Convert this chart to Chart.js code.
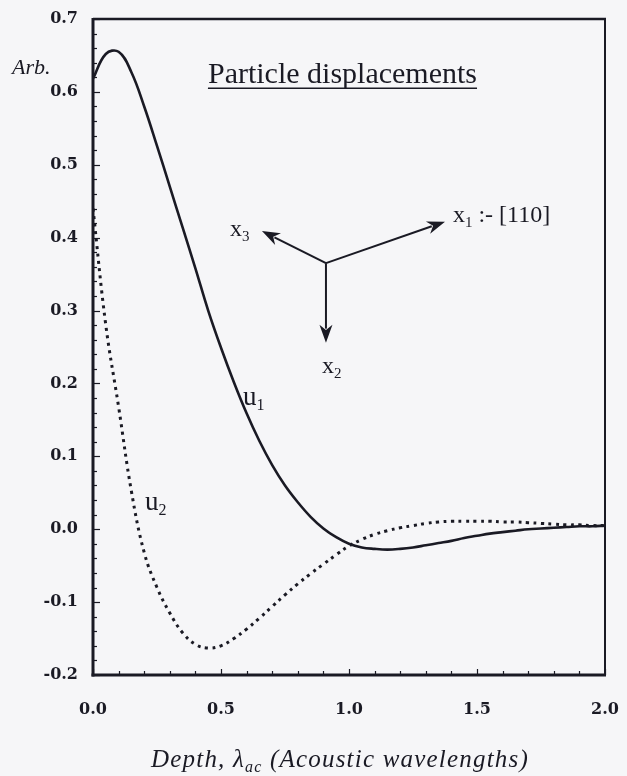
<!DOCTYPE html>
<html>
<head>
<meta charset="utf-8">
<title>Particle displacements</title>
<script src="https://cdn.jsdelivr.net/npm/chart.js@4.4.1/dist/chart.umd.min.js"></script>
<style>
  html, body { margin: 0; padding: 0; background: #f6f6f8; }
  #wrap { width: 627px; height: 776px; }
</style>
</head>
<body>
<div id="wrap"><canvas id="c" width="627" height="776"></canvas></div>
<script>
// Depth in acoustic wavelengths
const depth = [
  0.00, 0.05, 0.10, 0.15, 0.20, 0.25, 0.30, 0.35, 0.40, 0.45,
  0.50, 0.55, 0.60, 0.65, 0.70, 0.75, 0.80, 0.85, 0.90, 0.95,
  1.00, 1.05, 1.10, 1.15, 1.20, 1.25, 1.30, 1.35, 1.40, 1.45,
  1.50, 1.55, 1.60, 1.65, 1.70, 1.75, 1.80, 1.85, 1.90, 1.95, 2.00
];

// Displacement component u1 (solid)
const u1 = [
  0.618, 0.652, 0.655, 0.627, 0.580, 0.526, 0.470, 0.414, 0.358, 0.300,
  0.249, 0.202, 0.159, 0.121, 0.088, 0.060, 0.037, 0.017, 0.001, -0.011,
  -0.020, -0.025, -0.027, -0.028, -0.027, -0.025, -0.022, -0.019, -0.016, -0.012,
  -0.009, -0.006, -0.004, -0.002, 0.000, 0.001, 0.002, 0.003, 0.004, 0.004, 0.005
];

// Displacement component u2 (dotted)
const u2 = [
  0.440, 0.280, 0.168, 0.052, -0.032, -0.080, -0.115, -0.142, -0.158, -0.163,
  -0.160, -0.150, -0.137, -0.122, -0.106, -0.090, -0.075, -0.061, -0.048, -0.035,
  -0.023, -0.014, -0.007, -0.002, 0.002, 0.005, 0.008, 0.010, 0.011, 0.011,
  0.011, 0.011, 0.010, 0.010, 0.009, 0.008, 0.007, 0.006, 0.006, 0.005, 0.005
];

// Axis tick labels
const xTickLabels = ['0.0', '0.5', '1.0', '1.5', '2.0'];
const yTickLabels = ['-0.2', '-0.1', '0.0', '0.1', '0.2', '0.3', '0.4', '0.5', '0.6', '0.7'];

const INK = '#1a1a24';
const SERIF = '"Liberation Serif", "Times New Roman", serif';
const TICK_FONT = '"DejaVu Serif", serif';

function line(ctx, x0, y0, x1, y1) {
  ctx.beginPath();
  ctx.moveTo(x0, y0);
  ctx.lineTo(x1, y1);
  ctx.stroke();
}

// Arrow from (x0,y0) to (x1,y1) with a filled head
function arrow(ctx, x0, y0, x1, y1) {
  const ang = Math.atan2(y1 - y0, x1 - x0);
  const len = 18, half = 6.5;
  const c = Math.cos(ang), s = Math.sin(ang);
  const bx = x1 - len * c, by = y1 - len * s;
  line(ctx, x0, y0, bx + 4 * c, by + 4 * s);
  ctx.beginPath();
  ctx.moveTo(x1, y1);
  ctx.lineTo(bx - half * s, by + half * c);
  ctx.lineTo(bx + 0.3 * len * c, by + 0.3 * len * s);
  ctx.lineTo(bx + half * s, by - half * c);
  ctx.closePath();
  ctx.fill();
}

// Text runs with sizes / vertical offsets, e.g. for subscripts
function runsWidth(ctx, runs, style) {
  let w = 0;
  for (const [txt, size] of runs) {
    ctx.font = `${style} ${size}px ${SERIF}`;
    w += ctx.measureText(txt).width;
  }
  return w;
}
function drawRuns(ctx, runs, px, py, style) {
  let cx = px;
  for (const [txt, size, dy] of runs) {
    ctx.font = `${style} ${size}px ${SERIF}`;
    ctx.fillText(txt, cx, py + dy);
    cx += ctx.measureText(txt).width;
  }
  return cx;
}

const paper = {
  id: 'paper',
  beforeDraw(chart) {
    const { ctx, width, height } = chart;
    ctx.save();
    ctx.fillStyle = '#f6f6f8';
    ctx.fillRect(0, 0, width, height);
    ctx.restore();
  }
};

const frame = {
  id: 'frame',
  afterDatasetsDraw(chart) {
    const { ctx, chartArea: a, scales: { x, y } } = chart;
    ctx.save();
    ctx.strokeStyle = INK;
    ctx.lineCap = 'butt';
    // inward ticks on the left axis, every 0.02
    ctx.lineWidth = 1.2;
    for (let v = -20; v <= 70; v += 2) {
      const py = Math.round(y.getPixelForValue(v / 100)) + 0.5;
      const len = v % 10 === 0 ? 7 : 4;
      line(ctx, a.left, py, a.left + len, py);
    }
    // inward ticks on the bottom axis, every 0.1
    for (let v = 0; v <= 20; v++) {
      const px = Math.round(x.getPixelForValue(v / 10)) + 0.5;
      const len = v % 5 === 0 ? 6 : 4;
      line(ctx, px, a.bottom, px, a.bottom - len);
    }
    // box
    ctx.lineWidth = 3;
    line(ctx, a.left, a.top - 1, a.left, a.bottom + 1.5);
    line(ctx, a.left - 1.5, a.bottom, a.right + 1, a.bottom);
    ctx.lineWidth = 2.5;
    line(ctx, a.left, a.top, a.right + 1, a.top);
    ctx.lineWidth = 2;
    line(ctx, a.right, a.top, a.right, a.bottom);
    ctx.restore();
  }
};

const notes = {
  id: 'notes',
  afterDraw(chart) {
    const { ctx, scales: { x, y } } = chart;
    const X = v => x.getPixelForValue(v);
    const Y = v => y.getPixelForValue(v);
    ctx.save();
    ctx.fillStyle = INK;
    ctx.strokeStyle = INK;
    ctx.textAlign = 'left';
    ctx.textBaseline = 'alphabetic';

    // y-axis unit
    ctx.font = `italic 22px ${SERIF}`;
    ctx.fillText('Arb.', 12, Y(0.624));

    // underlined heading
    ctx.font = `30px ${SERIF}`;
    const head = 'Particle displacements';
    const hx = X(0.449), hy = Y(0.612);
    ctx.fillText(head, hx, hy);
    ctx.lineWidth = 1.5;
    line(ctx, hx, hy + 5, hx + ctx.measureText(head).width, hy + 5);

    // crystal axes
    const cx = X(0.910), cy = Y(0.365);
    ctx.lineWidth = 2;
    arrow(ctx, cx, cy, X(1.375), Y(0.422));
    arrow(ctx, cx, cy, X(0.660), Y(0.409));
    arrow(ctx, cx, cy, X(0.910), Y(0.256));
    drawRuns(ctx, [['x', 24, 0], ['1', 15, 5], [' :- [110]', 24, 0]], X(1.406), Y(0.421), '');
    drawRuns(ctx, [['x', 24, 0], ['3', 15, 5]], X(0.535), Y(0.4025), '');
    drawRuns(ctx, [['x', 24, 0], ['2', 15, 5]], X(0.895), Y(0.215), '');

    // curve labels
    drawRuns(ctx, [['u', 27, 0], ['1', 16, 5]], X(0.586), Y(0.171), '');
    drawRuns(ctx, [['u', 27, 0], ['2', 16, 5]], X(0.203), Y(0.027), '');

    // x-axis title
    const title = [['Depth, λ', 25, 0], ['ac', 16, 5], [' (Acoustic wavelengths)', 25, 0]];
    ctx.letterSpacing = '1.2px';
    const w = runsWidth(ctx, title, 'italic');
    drawRuns(ctx, title, 340 - w / 2, 767, 'italic');
    ctx.restore();
  }
};

const toPoints = ys => depth.map((d, i) => ({ x: d, y: ys[i] }));

new Chart(document.getElementById('c'), {
  type: 'line',
  data: {
    datasets: [
      {
        label: 'u1',
        data: toPoints(u1),
        borderColor: INK,
        borderWidth: 2.6,
        pointRadius: 0,
        tension: 0.4,
        fill: false
      },
      {
        label: 'u2',
        data: toPoints(u2),
        borderColor: INK,
        borderWidth: 3,
        borderDash: [3, 4.5],
        pointRadius: 0,
        tension: 0.4,
        fill: false
      }
    ]
  },
  options: {
    responsive: false,
    animation: false,
    events: [],
    layout: { padding: { left: 0, top: 19, right: 22, bottom: 0 } },
    plugins: { legend: { display: false }, tooltip: { enabled: false } },
    scales: {
      x: {
        type: 'linear',
        min: 0,
        max: 2,
        afterBuildTicks: s => { s.ticks = xTickLabels.map(t => ({ value: parseFloat(t) })); },
        afterFit: s => { s.height = 101; s.paddingLeft = 0; s.paddingRight = 0; },
        ticks: {
          callback: (v, i) => xTickLabels[i],
          color: INK,
          padding: 25,
          maxRotation: 0,
          font: { family: TICK_FONT, size: 16, weight: 'bold' }
        },
        grid: { display: false, drawTicks: false },
        border: { display: false }
      },
      y: {
        type: 'linear',
        min: -0.2,
        max: 0.7,
        afterBuildTicks: s => { s.ticks = yTickLabels.map(t => ({ value: parseFloat(t) })); },
        afterFit: s => { s.width = 93; s.paddingTop = 0; s.paddingBottom = 0; },
        ticks: {
          callback: (v, i) => yTickLabels[i],
          color: INK,
          padding: 15,
          font: { family: TICK_FONT, size: 16, weight: 'bold' }
        },
        grid: { display: false, drawTicks: false },
        border: { display: false }
      }
    }
  },
  plugins: [paper, frame, notes]
});
</script>
</body>
</html>
